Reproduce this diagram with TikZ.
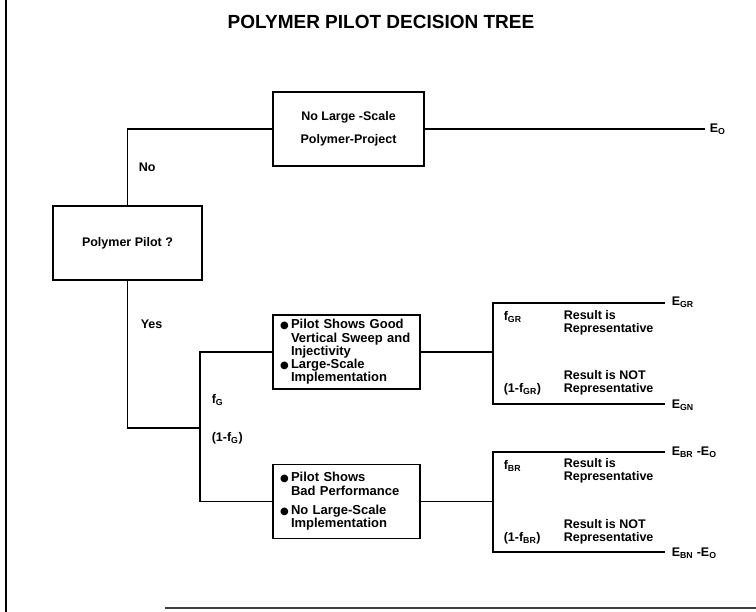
\documentclass[tikz,border=0pt]{standalone}
\usepackage{fontspec}
\setmainfont{Liberation Sans}
\newfontfamily\dejavu{DejaVu Sans}
\newcommand\bul{\makebox[11pt][l]{\dejavu\fontsize{10}{10}\selectfont ●}}
\newcommand\ind{\hspace*{11pt}}
\begin{document}
\begin{tikzpicture}[x=1pt,y=-1pt,line width=1.6pt,
  box/.style={draw,line width=1.6pt,minimum height=74pt,inner sep=0pt,font=\bfseries\fontsize{12.5}{14}\selectfont},
  bulbox/.style={box,text width=133pt,inner xsep=7pt,align=left,font=\bfseries\fontsize{13}{13.3}\selectfont},
  lbl/.style={inner sep=0pt,font=\bfseries\fontsize{12.5}{13}\selectfont},
  res/.style={lbl,anchor=west,align=left}]
\useasboundingbox (0,0) rectangle (756,612);
% page edges
\draw[line width=2pt] (6,0) -- (6,612);
\draw[line width=1.2pt,black!75] (165,608) -- (756,608);
% title
\node[inner sep=0pt,font=\bfseries\fontsize{19}{19}\selectfont] (title) at (381,22) {POLYMER PILOT DECISION TREE};
% boxes
\node[box,minimum width=151pt,align=center,font=\bfseries\fontsize{12.5}{23}\selectfont] (top) at (348.5,129) {No Large -Scale\\Polymer-Project};
\node[box,minimum width=149pt] (pp) at (127.5,243) {Polymer Pilot ?};
\node[bulbox] (up) at (346.5,352) {\bul Pilot Shows Good\\\ind Vertical Sweep and\\\ind Injectivity\\\bul Large-Scale\\\ind Implementation};
\node[bulbox] (low) at (346.5,501.5) {\bul Pilot Shows\\\ind Bad Performance\\[6pt]\bul No Large-Scale\\\ind Implementation};
% coordinates
\coordinate (eo) at (705,129);
\coordinate (yj) at (200,428);
\coordinate (g1) at (200,352);
\coordinate (g2) at (200,501.5);
\coordinate (r1) at (493,352);
\coordinate (r1t) at (493,303);
\coordinate (r1b) at (493,404);
\coordinate (egr) at (665,303);
\coordinate (egn) at (665,404);
\coordinate (r2) at (493,501.5);
\coordinate (r2t) at (493,452);
\coordinate (r2b) at (493,552);
\coordinate (ebr) at (665,452);
\coordinate (ebn) at (665,552);
% connectors
\draw (pp.north) |- (top.west);
\draw (top.east) -- (eo);
\draw (pp.south) |- (yj);
\draw (up.west) -- (g1) -- (g2) -- (low.west);
\draw (up.east) -- (r1);
\draw (egr) -- (r1t) -- (r1b) -- (egn);
\draw (low.east) -- (r2);
\draw (ebr) -- (r2t) -- (r2b) -- (ebn);
% branch labels
\node[lbl,anchor=west] (no) at (138,167) {No};
\node[lbl,anchor=west] (yes) at (140,324) {Yes};
\node[lbl,anchor=west] (fg) at (211,400) {f\textsubscript{G}};
\node[lbl,anchor=west] (fg1) at (211,438) {(1-f\textsubscript{G})};
% end labels
\node[lbl,anchor=west] (Eo) at (709,129) {E\textsubscript{O}};
\node[lbl,anchor=west] (Egr) at (671,302) {E\textsubscript{GR}};
\node[lbl,anchor=west] (Egn) at (671,405) {E\textsubscript{GN}};
\node[lbl,anchor=west] (Ebr) at (671,452) {E\textsubscript{BR} -E\textsubscript{O}};
\node[lbl,anchor=west] (Ebn) at (671,553) {E\textsubscript{BN} -E\textsubscript{O}};
% outcome labels
\node[lbl,anchor=west] (fgr) at (503,317) {f\textsubscript{GR}};
\node[res] (r1a) at (563,323) {Result is\\Representative};
\node[res] (r1n) at (563,383) {Result is NOT\\Representative};
\node[lbl,anchor=west] (fgr1) at (503,389) {(1-f\textsubscript{GR})};
\node[lbl,anchor=west] (fbr) at (503,466) {f\textsubscript{BR}};
\node[res] (r2a) at (563,471) {Result is\\Representative};
\node[res] (r2n) at (563,532) {Result is NOT\\Representative};
\node[lbl,anchor=west] (fbr1) at (503,538) {(1-f\textsubscript{BR})};
\end{tikzpicture}
\end{document}
